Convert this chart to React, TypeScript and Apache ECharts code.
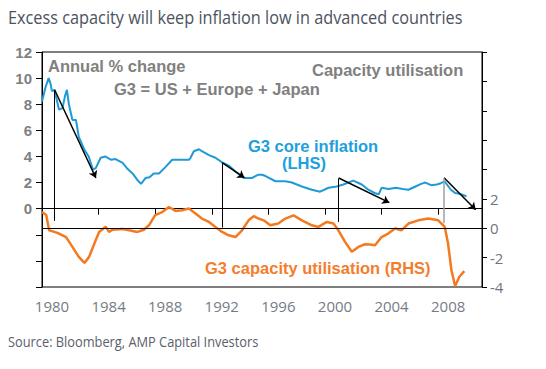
import React, { useEffect, useRef } from "react";
import * as echarts from "echarts";

// G3 core inflation (LHS, annual % change)
const inflYears = [
  1980.0, 1980.25, 1980.47, 1980.6, 1980.7, 1980.87, 1981.05, 1981.2, 1981.45, 1981.62, 1981.76, 1981.9,
  1982.15, 1982.4, 1982.6, 1983.0, 1983.3, 1983.6, 1983.8, 1984.15, 1984.46, 1984.86, 1985.2, 1985.7,
  1986.0, 1986.4, 1986.74, 1987.0, 1987.33, 1987.6, 1987.9, 1988.27, 1988.74, 1989.2, 1989.9, 1990.4,
  1990.5, 1990.73, 1991.1, 1991.3, 1991.8, 1992.26, 1992.73, 1993.2, 1993.67, 1994.26, 1994.84, 1995.3,
  1995.55, 1995.8, 1996.5, 1997.2, 1997.66, 1998.37, 1999.07, 1999.66, 2000.25, 2000.83, 2001.3, 2002.0,
  2002.6, 2003.07, 2003.5, 2003.8, 2004.0, 2004.5, 2005.0, 2005.5, 2005.9, 2006.4, 2006.8, 2007.1,
  2007.5, 2007.9, 2008.2, 2008.45, 2008.9, 2009.2, 2009.5, 2010.0,
];
const inflValues = [
  8.2, 9.3, 10.0, 9.6, 9.0, 9.1, 8.3, 7.6, 7.7, 8.6, 9.1, 8.0,
  6.8, 6.8, 5.5, 4.5, 4.0, 3.0, 3.1, 3.9, 4.0, 3.75, 3.8, 3.5,
  3.1, 2.7, 2.2, 1.9, 2.35, 2.4, 2.7, 2.7, 3.2, 3.75, 3.75, 3.75,
  3.9, 4.4, 4.55, 4.4, 4.1, 3.9, 3.55, 3.3, 2.85, 2.35, 2.35, 2.6,
  2.6, 2.5, 2.1, 2.1, 2.0, 1.7, 1.45, 1.3, 1.6, 1.7, 1.85, 2.15,
  1.85, 1.45, 1.2, 1.1, 1.6, 1.5, 1.6, 1.5, 1.45, 1.7, 1.9, 2.0,
  1.8, 1.85, 1.95, 2.1, 1.45, 1.2, 1.15, 0.95,
];

// G3 capacity utilisation (RHS)
const capYears = [
  1980.0, 1980.3, 1980.5, 1980.87, 1981.2, 1981.7, 1982.15, 1982.6, 1983.0, 1983.33, 1983.8, 1984.04,
  1984.5, 1984.74, 1984.98, 1985.7, 1986.15, 1986.74, 1987.2, 1987.56, 1988.0, 1988.5, 1988.97, 1989.44,
  1989.9, 1990.38, 1990.85, 1991.3, 1991.8, 1992.26, 1992.73, 1993.2, 1993.67, 1994.14, 1994.6, 1994.96,
  1995.3, 1995.67, 1996.14, 1996.7, 1997.2, 1997.78, 1998.37, 1999.07, 1999.54, 2000.13, 2000.6, 2000.95,
  2001.42, 2001.9, 2002.36, 2002.83, 2003.2, 2003.54, 2004.0, 2004.47, 2004.95, 2005.4, 2005.9, 2006.6,
  2007.3, 2008.0, 2008.47, 2008.7, 2008.94, 2009.2, 2009.5, 2009.85,
];
const capValues = [
  1.1, 0.9, -0.14, -0.25, -0.36, -0.6, -1.27, -1.95, -2.36, -1.95, -0.8, -0.25,
  0.1, -0.25, -0.1, -0.05, -0.14, -0.25, -0.1, 0.2, 0.9, 1.1, 1.45, 1.18,
  1.22, 1.34, 1.0, 0.66, 0.43, 0.09, -0.25, -0.48, -0.6, -0.14, 0.54, 0.82,
  0.66, 0.54, 0.2, 0.32, 0.66, 0.88, 0.54, 0.2, 0.09, 0.43, 0.32, -0.14,
  -0.93, -1.6, -1.27, -1.09, -1.1, -1.16, -0.6, -0.36, -0.02, -0.14, 0.32, 0.54,
  0.66, 0.54, 0.09, -1.04, -2.86, -3.95, -3.3, -2.92,
];

// Trend arrows on the LHS scale: [year0, value0, year1, value1]
const trendArrows = [
  [1980.89, 9.11, 1983.81, 2.35],
  [1992.73, 3.52, 1994.31, 2.37],
  [2000.97, 2.35, 2004.55, 0.46],
  [2008.42, 2.37, 2010.65, -0.08],
];
// Vertical drop lines on the RHS scale: [year, top, bottom]
const dropLines = [
  [1980.89, 9.39, 0.5],
  [1992.73, 4.4, 0.05],
  [2000.97, 3.38, 0.43],
  [2008.42, 3.4, 0.34],
];

const TITLE = "Excess capacity will keep inflation low in advanced countries";
const SOURCE = "Source: Bloomberg, AMP Capital Investors";

const BLUE = "#1e9ad6";
const ORANGE = "#f47a22";
const GRAY = "#808080";
const ARIAL = "Liberation Sans, Arial, sans-serif";

export default function App() {
  const ref = useRef<HTMLDivElement>(null);
  useEffect(() => {
    document.body.style.margin = "0";
    const chart = echarts.init(ref.current!, null, { renderer: "svg" });
    const boldText = (text: string, x: number, y: number, fill: string) => ({
      type: "text",
      x,
      y,
      silent: true,
      style: {
        text,
        fill,
        fontSize: 16.5,
        fontWeight: "bold",
        fontFamily: ARIAL,
        align: "left",
        verticalAlign: "middle",
      },
    });
    const option: any = {
      animation: false,
      grid: { left: 42, right: 64, top: 52, bottom: 82, show: true, borderColor: "#000", borderWidth: 1 },
      xAxis: {
        type: "value",
        min: 1980,
        max: 2011.1,
        interval: 4,
        axisLine: { show: true, lineStyle: { color: "#000", width: 1 } },
        axisTick: { show: true, length: 6, lineStyle: { color: "#000" } },
        splitLine: { show: false },
        axisLabel: {
          formatter: (v: number) => (v <= 2008 ? String(v) : ""),
          color: "#757b85",
          fontSize: 15,
          fontFamily: "Open Sans",
          margin: 11,
          padding: [0, 0, 0, 20],
        },
      },
      yAxis: [
        {
          type: "value",
          position: "left",
          min: -6,
          max: 12,
          interval: 2,
          axisLine: { show: true, lineStyle: { color: "#000" } },
          axisTick: { show: true, length: 6, lineStyle: { color: "#000" } },
          splitLine: { show: false },
          axisLabel: {
            formatter: (v: number) => (v >= 0 ? String(v) : ""),
            color: GRAY,
            fontSize: 15,
            fontWeight: "bold",
            fontFamily: ARIAL,
            margin: 10,
          },
        },
        {
          type: "value",
          position: "right",
          min: -4,
          max: 12,
          interval: 2,
          axisLine: { show: true, lineStyle: { color: "#000" } },
          axisTick: { show: true, length: 5, lineStyle: { color: "#000" } },
          splitLine: { show: false },
          axisLabel: {
            formatter: (v: number) => (v <= 2 ? String(v) : ""),
            color: "#6e7480",
            fontSize: 15,
            fontFamily: "Open Sans",
            margin: 8,
          },
        },
      ],
      series: [
        {
          type: "line",
          yAxisIndex: 0,
          data: inflYears.map((y, i) => [y, inflValues[i]]),
          showSymbol: false,
          lineStyle: { color: BLUE, width: 2 },
          itemStyle: { color: BLUE },
          z: 3,
          markLine: {
            silent: true,
            symbol: ["none", "arrow"],
            symbolSize: 7,
            label: { show: false },
            lineStyle: { color: "#000", width: 1.5, type: "solid" },
            data: trendArrows.map((a) => [{ coord: [a[0], a[1]] }, { coord: [a[2], a[3]] }]),
          },
        },
        {
          type: "line",
          yAxisIndex: 1,
          data: capYears.map((y, i) => [y, capValues[i]]),
          showSymbol: false,
          lineStyle: { color: ORANGE, width: 2.5 },
          itemStyle: { color: ORANGE },
          z: 3,
          markLine: {
            silent: true,
            symbol: ["none", "none"],
            label: { show: false },
            lineStyle: { color: "#000", width: 1, type: "solid" },
            data: [
              { yAxis: 0 },
              ...dropLines.map((d, i) => [
                { coord: [d[0], d[1]], lineStyle: { color: i === 3 ? "#a0a0a0" : "#000", width: i === 3 ? 1.5 : 1 } },
                { coord: [d[0], d[2]] },
              ]),
            ],
          },
        },
      ],
      graphic: [
        {
          type: "text",
          x: 8,
          y: 17,
          scaleX: 0.905,
          silent: true,
          style: {
            text: TITLE,
            fill: "#4c5360",
            fontSize: 18,
            fontFamily: "Open Sans",
            align: "left",
            verticalAlign: "middle",
          },
        },
        {
          type: "text",
          x: 8,
          y: 342,
          scaleX: 0.916,
          silent: true,
          style: {
            text: SOURCE,
            fill: "#5a606b",
            fontSize: 14,
            fontFamily: "Open Sans",
            align: "left",
            verticalAlign: "middle",
          },
        },
        boldText("Annual % change", 48, 66, GRAY),
        boldText("G3 = US + Europe + Japan", 114, 89, GRAY),
        boldText("Capacity utilisation", 312, 70, GRAY),
        boldText("G3 core inflation", 248, 146, "#1da0dc"),
        boldText("(LHS)", 282, 163, "#1da0dc"),
        boldText("G3 capacity utilisation (RHS)", 205, 268, "#f47d2c"),
      ],
    };
    chart.setOption(option);
    return () => chart.dispose();
  }, []);
  return <div ref={ref} style={{ width: 546, height: 369 }} />;
}
